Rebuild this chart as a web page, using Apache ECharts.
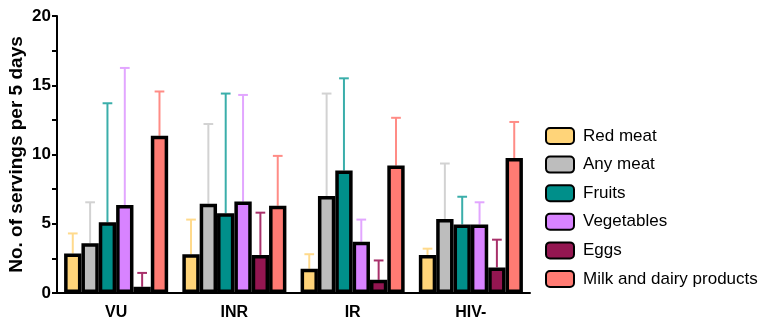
<!DOCTYPE html>
<html>
<head>
<meta charset="utf-8">
<script src="https://cdn.jsdelivr.net/npm/echarts@6/dist/echarts.min.js"></script>
<style>
  html, body { margin: 0; padding: 0; background: #fff; }
  #chart { width: 758px; height: 322px; }
</style>
</head>
<body>
<div id="chart"></div>
<script>
// Groups along the x axis
const groups = ['VU', 'INR', 'IR', 'HIV-'];

// Food categories (one bar series each)
const foodNames = ['Red meat', 'Any meat', 'Fruits', 'Vegetables', 'Eggs', 'Milk and dairy products'];

// Mean servings per 5 days, per group
const redMeat    = [2.85, 2.8, 1.75, 2.75];
const anyMeat    = [3.6, 6.45, 7.0, 5.35];
const fruits     = [5.1, 5.75, 8.85, 4.95];
const vegetables = [6.35, 6.6, 3.7, 4.95];
const eggs       = [0.45, 2.75, 0.95, 1.85];
const milkDairy  = [11.35, 6.3, 9.2, 9.75];

// Upper end of each error bar (mean + SD)
const redMeatHi    = [4.3, 5.3, 2.8, 3.2];
const anyMeatHi    = [6.55, 12.2, 14.4, 9.35];
const fruitsHi     = [13.7, 14.4, 15.5, 6.95];
const vegetablesHi = [16.25, 14.3, 5.3, 6.55];
const eggsHi       = [1.45, 5.8, 2.35, 3.85];
const milkDairyHi  = [14.55, 9.9, 12.65, 12.35];

// Y axis ticks
const yTicks = [0, 5, 10, 15, 20];

const FONT = '"Liberation Sans", Arial, sans-serif';

const means = [redMeat, anyMeat, fruits, vegetables, eggs, milkDairy];
const highs = [redMeatHi, anyMeatHi, fruitsHi, vegetablesHi, eggsHi, milkDairyHi];
const fillColors  = ['#FFD479', '#BDBDBD', '#008F8A', '#D883FF', '#941651', '#FF7B73'];
const errorColors = ['#FFDA8C', '#D2D2D2', '#3AAEAA', '#E2A6FF', '#A8306A', '#FF8C86'];

const CATEGORY_GAP = 0.12;
const nSeries = foodNames.length;

const series = [];
foodNames.forEach((name, i) => {
  series.push({
    name: name,
    type: 'bar',
    data: means[i],
    barGap: 0,
    barCategoryGap: (CATEGORY_GAP * 100) + '%',
    itemStyle: { color: fillColors[i], borderColor: '#000', borderWidth: 3.5 },
    z: 3
  });
});

// Upper error bars placed on each bar via the category scale
foodNames.forEach((name, i) => {
  series.push({
    name: name + ' SD',
    type: 'custom',
    data: groups.map((g, k) => [k, means[i][k], highs[i][k]]),
    z: 2,
    silent: true,
    renderItem: function (params, api) {
      const k = api.value(0);
      const base = api.coord([k, api.value(1)]);
      const top = api.coord([k, api.value(2)]);
      const band = api.size([1, 0])[0];
      const barW = band * (1 - CATEGORY_GAP) / nSeries;
      const x = base[0] + (i - (nSeries - 1) / 2) * barW;
      const cap = barW * 0.28;
      const style = { stroke: errorColors[i], lineWidth: 2, fill: null };
      return {
        type: 'group',
        children: [
          { type: 'line', shape: { x1: x, y1: base[1], x2: x, y2: top[1] }, style: style },
          { type: 'line', shape: { x1: x - cap, y1: top[1], x2: x + cap, y2: top[1] }, style: style }
        ]
      };
    }
  });
});

const chart = echarts.init(document.getElementById('chart'), null, { renderer: 'canvas' });
chart.setOption({
  animation: false,
  backgroundColor: '#fff',
  textStyle: { fontFamily: FONT },
  grid: { left: 57, right: 228, top: 16, bottom: 29, containLabel: false, outerBoundsMode: 'none' },
  legend: {
    data: foodNames,
    orient: 'vertical',
    left: 545,
    top: 127,
    padding: 0,
    itemWidth: 28,
    itemHeight: 16,
    itemGap: 10.6,
    textStyle: { fontSize: 17, color: '#000', fontFamily: FONT, padding: [0, 0, 0, 4] }
  },
  xAxis: {
    type: 'category',
    data: groups,
    axisLine: { lineStyle: { color: '#000', width: 2 } },
    axisTick: { alignWithLabel: true, length: 6, lineStyle: { color: '#000', width: 2 } },
    axisLabel: { color: '#000', fontSize: 16, fontWeight: 'bold', fontFamily: FONT, margin: 12 }
  },
  yAxis: {
    type: 'value',
    min: yTicks[0],
    max: yTicks[yTicks.length - 1],
    interval: 5,
    name: 'No. of servings per 5 days',
    nameLocation: 'middle',
    nameGap: 31,
    nameMoveOverlap: false,
    nameTextStyle: { color: '#000', fontSize: 19, fontWeight: 'bold', fontFamily: FONT },
    axisLine: { show: true, lineStyle: { color: '#000', width: 2 } },
    axisTick: { show: true, length: 5, lineStyle: { color: '#000', width: 2 } },
    minorTick: { show: true, splitNumber: 2, length: 5, lineStyle: { color: '#000', width: 2 } },
    splitLine: { show: false },
    axisLabel: { color: '#000', fontSize: 17, fontWeight: 'bold', fontFamily: FONT, margin: 6 }
  },
  series: series
});
</script>
</body>
</html>
